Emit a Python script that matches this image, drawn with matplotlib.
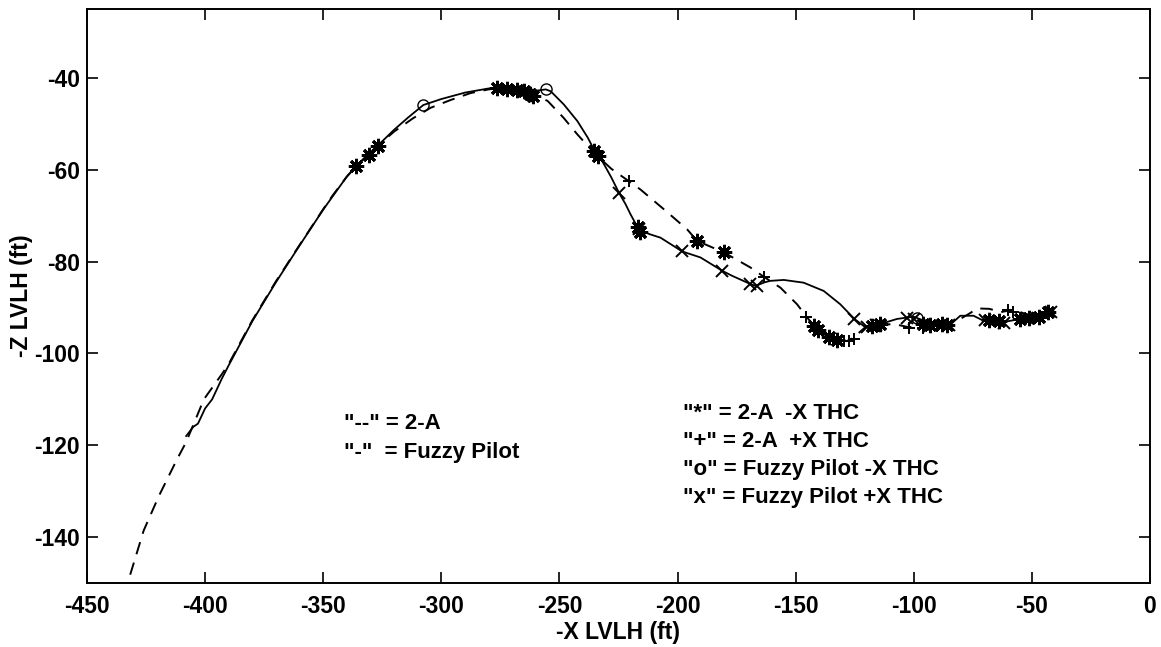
import matplotlib
matplotlib.use("Agg")
import matplotlib.pyplot as plt

plt.rcParams['font.family'] = ['Liberation Sans', 'DejaVu Sans']
plt.rcParams['axes.unicode_minus'] = False

# 2-A trajectory (dashed)
x_2a = [-431.7, -426, -419.5, -412, -408, -400.5, -393, -390, -380, -370, -360, -350,
        -346, -340, -336, -330, -327, -320, -312, -304.5, -296, -287.6, -280, -276,
        -270, -265, -262, -255, -248.2, -242.4, -235, -228, -220.6, -215.7, -205.8,
        -195.9, -191.7, -180.4, -169.1, -163.5, -156.4, -149.4, -145.4, -142.3, -136,
        -132.5, -128.2, -125.4, -120.5, -114, -108.5, -102, -98.6, -92, -87.3, -82,
        -77, -73, -68, -63, -58, -52, -47, -42]
z_2a = [-148.2, -138.6, -131, -123.2, -119.3, -110, -104.6, -102.3, -92.8, -84.3, -76.4,
        -68.6, -65.6, -61.5, -59.2, -56.2, -54.8, -51.7, -48.8, -46.5, -44.8, -43.3,
        -42.5, -42.3, -42.3, -42.8, -43.5, -45, -48.7, -52.3, -56.5, -59.8, -62.5,
        -64.3, -68.6, -73, -75.5, -78, -81.3, -83.3, -85.7, -89.3, -92, -94, -96.4,
        -97.1, -97.3, -96.5, -94.3, -93.8, -93.6, -94.3, -94, -93.8, -93.6, -93,
        -91.5, -90.2, -90.3, -91, -90.5, -91.5, -91.5, -91]

# Fuzzy Pilot trajectory (solid)
x_fp = [-408, -405, -403, -400, -397, -393, -390, -380, -370, -360, -350, -346, -340,
        -336, -330, -327, -320, -314, -307.6, -300, -290, -280, -276, -270, -265, -260,
        -255.8, -253.7, -248.1, -242.4, -238, -235, -232, -228, -224.8, -222, -219.9,
        -216.4, -212, -207.2, -198, -190.3, -181.1, -176.9, -169.1, -167, -163, -160.7,
        -155, -146.6, -138.1, -131.1, -125.1, -120.5, -117.6, -114.1, -107.1, -100.1,
        -96, -92, -88, -84, -80.3, -74.7, -70.4, -66, -63.4, -58, -54.9, -49.3, -43.6,
        -40.9]
z_fp = [-118, -116, -115.3, -112, -110, -105.6, -102.6, -93, -84.5, -76.5, -68.7, -65.8,
        -61.5, -59.2, -56.2, -54.8, -51.3, -48.6, -45.9, -44.6, -43.2, -42.3, -42.2,
        -42.3, -42.6, -42.8, -42.5, -42.9, -45.8, -49.4, -53, -56, -58, -61.7, -65,
        -67.5, -69.7, -73, -74, -74.8, -77.8, -79.1, -82, -83.1, -84.9, -85.3, -84.5,
        -84.2, -84, -84.6, -86.4, -89.3, -92.5, -94.3, -94, -93.6, -92.5, -92, -92.8,
        -93.5, -93.8, -93.5, -91.8, -91.8, -92.9, -93.2, -93.3, -92.8, -92.5, -92.2,
        -91.4, -90.7]

# Thruster (THC) events
x_2a_minus = [-336.2, -330.6, -327, -276.3, -272, -268, -265.1, -262.5, -261, -235.5,
              -233.5, -216.8, -216, -191.7, -180.4, -142.3, -140.5, -136, -132.5, -117.6,
              -114.1, -96, -93, -88, -86, -68, -64, -55, -51, -47, -43]
z_2a_minus = [-59.2, -56.7, -54.8, -42.3, -42.4, -42.6, -42.8, -43.4, -44.0, -56, -57,
              -72.5, -73.5, -75.5, -78, -94, -95, -96.4, -97.1, -94, -93.6, -93.5, -93.8,
              -93.6, -93.9, -92.8, -93, -92.5, -92.2, -92, -91]
x_2a_plus = [-220.6, -163.5, -145.4, -129.5, -127.5, -125.5, -115, -102, -96, -90, -60, -58]
z_2a_plus = [-62.5, -83.3, -92, -97.3, -97.2, -96.8, -94, -94.5, -94.5, -94, -90.5, -91]
x_fp_minus = [-307.6, -255.8, -98.5]
z_fp_minus = [-45.9, -42.5, -92.3]
x_fp_plus = [-224.8, -216.4, -198, -181.1, -169.5, -166.5, -125.1, -120, -116, -103, -100,
             -85, -70, -62, -52, -42]
z_fp_plus = [-65, -73, -77.8, -82, -84.9, -85.3, -92.5, -94.2, -93.8, -92.3, -92.5, -93.8,
             -92.8, -93.3, -92.3, -91]

line_key = ['"--" = 2-A', '"-"  = Fuzzy Pilot']
marker_key = ['"*" = 2-A  -X THC', '"+" = 2-A  +X THC',
              '"o" = Fuzzy Pilot -X THC', '"x" = Fuzzy Pilot +X THC']

fig = plt.figure(figsize=(11.61, 6.47), dpi=100)
ax = fig.add_axes([0.0749, 0.099, 0.9156, 0.887])

ax.plot(x_2a, z_2a, color='black', linestyle=(0, (6.5, 4.5)), linewidth=1.4)
ax.plot(x_fp, z_fp, color='black', linestyle='-', linewidth=1.3)

ax.plot(x_2a_minus, z_2a_minus, linestyle='none', marker=(8, 2, 0), markersize=11,
        markeredgewidth=2.1, color='black')
ax.plot(x_2a_plus, z_2a_plus, linestyle='none', marker='+', markersize=9,
        markeredgewidth=1.4, color='black')
ax.plot(x_fp_minus, z_fp_minus, linestyle='none', marker='o', markersize=8,
        markerfacecolor='none', markeredgewidth=1.0, color='black')
ax.plot(x_fp_plus, z_fp_plus, linestyle='none', marker='x', markersize=9,
        markeredgewidth=1.4, color='black')

ax.set_xlim(-450, 0)
ax.set_ylim(-150, -25)
ax.set_xticks(range(-450, 1, 50))
ax.set_yticks(range(-140, -39, 20))

for s in ax.spines.values():
    s.set_linewidth(1.4)
ax.tick_params(direction='in', length=8, width=1.2, labelsize=16.5,
               top=True, right=True, pad=5)
ax.tick_params(axis='x', pad=9)
for lbl in ax.get_xticklabels() + ax.get_yticklabels():
    lbl.set_fontweight('bold')

ax.set_xlabel('-X LVLH (ft)', fontsize=16.5, fontweight='bold', labelpad=2)
ax.set_ylabel('-Z LVLH (ft)', fontsize=16.5, fontweight='bold', labelpad=1)

for i, t in enumerate(line_key):
    ax.text(-341, -115.2 - 6.3 * i, t, fontsize=16, fontweight='bold',
            va='center', ha='left')
for i, t in enumerate(marker_key):
    ax.text(-197.5, -113.0 - 6.15 * i, t, fontsize=16, fontweight='bold',
            va='center', ha='left')

fig.savefig('out.png', dpi=100)
